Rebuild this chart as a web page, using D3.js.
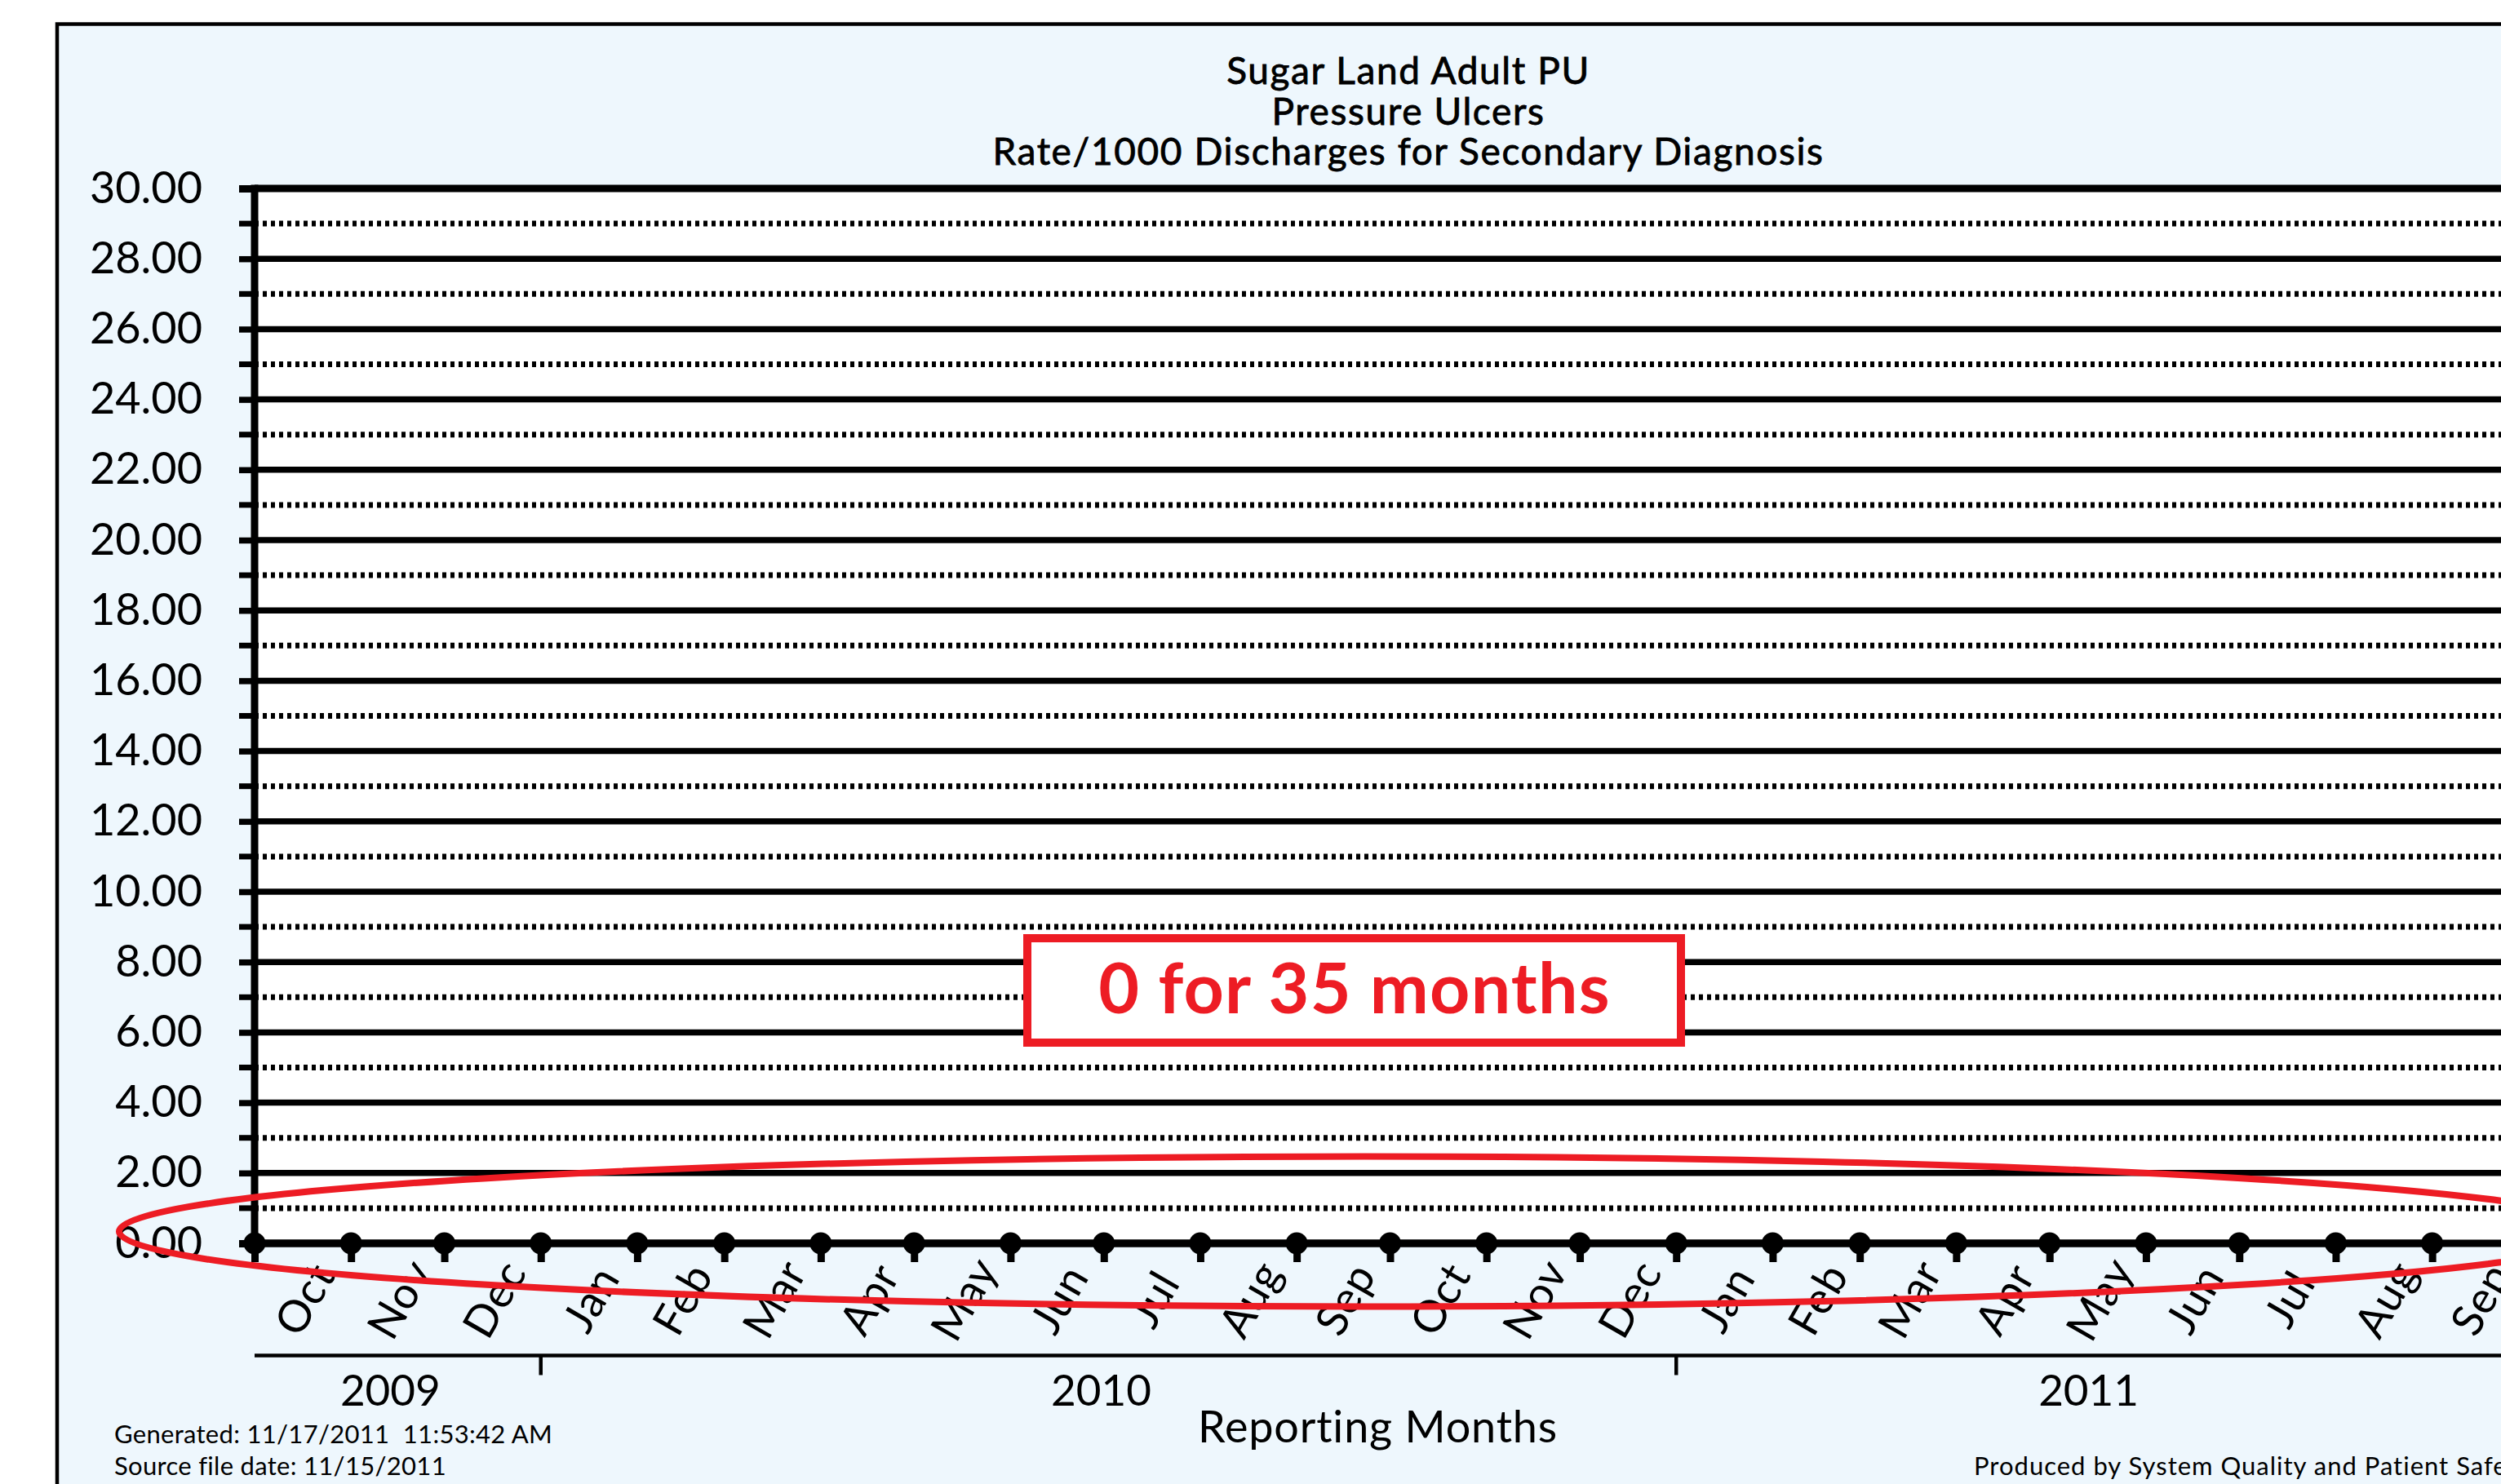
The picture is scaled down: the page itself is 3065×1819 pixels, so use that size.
<!DOCTYPE html>
<html>
<head>
<meta charset="utf-8">
<script src="https://cdn.jsdelivr.net/npm/d3@7"></script>
<style>
  html, body { margin: 0; padding: 0; background: #ffffff; }
  svg { display: block; }
  text { font-family: "Lato", "Noto Sans", sans-serif; fill: #000; }
</style>
</head>
<body>
<svg id="chart" width="3065" height="1819"></svg>
<script>
// ---------------- data ----------------
const titleLines = ["Sugar Land Adult PU", "Pressure Ulcers", "Rate/1000 Discharges for Secondary Diagnosis"];
const monthDates = ["2009-10-01","2009-11-01","2009-12-01","2010-01-01","2010-02-01","2010-03-01",
  "2010-04-01","2010-05-01","2010-06-01","2010-07-01","2010-08-01","2010-09-01",
  "2010-10-01","2010-11-01","2010-12-01","2011-01-01","2011-02-01","2011-03-01",
  "2011-04-01","2011-05-01","2011-06-01","2011-07-01","2011-08-01","2011-09-01"];
const monthLabels = ["Oct","Nov","Dec","Jan","Feb","Mar","Apr","May","Jun","Jul","Aug","Sep",
  "Oct","Nov","Dec","Jan","Feb","Mar","Apr","May","Jun","Jul","Aug","Sep"];
const rateValues = [0,0,0,0,0,0,0,0,0,0,0,0,0,0,0,0,0,0,0,0,0,0,0,0];
const yMajorTicks = [0,2,4,6,8,10,12,14,16,18,20,22,24,26,28,30];
const yMinorTicks = [1,3,5,7,9,11,13,15,17,19,21,23,25,27,29];
const yTickLabels = ["0.00","2.00","4.00","6.00","8.00","10.00","12.00","14.00","16.00","18.00",
  "20.00","22.00","24.00","26.00","28.00","30.00"];
const years = ["2009","2010","2011"];
const yearStarts = ["2009-10-01","2010-01-01","2011-01-01"];
const xDomain = ["2009-10-01","2011-10-01"];
const yDomain = [0, 30];
const xAxisTitle = "Reporting Months";
const annotationText = "0 for 35 months";
const footerLeft = ["Generated: 11/17/2011  11:53:42 AM", "Source file date: 11/15/2011"];
const footerRight = "Produced by System Quality and Patient Safety";

// ---------------- layout ----------------
const W = 3065, H = 1819;
const plotL = 312, plotT = 231, plotB = 1524, plotR = 3095, gridR = 3120;
const RED = "#ED1C24", BG = "#EEF7FD";
const parse = d3.timeParse("%Y-%m-%d");

const svg = d3.select("#chart");
svg.append("rect").attr("x", 0).attr("y", 0).attr("width", W).attr("height", H).attr("fill", "#fff");
// outer frame
svg.append("rect").attr("x", 70).attr("y", 29.5).attr("width", 3400).attr("height", 1900)
  .attr("fill", BG).attr("stroke", "#000").attr("stroke-width", 4.5);
// plot area
svg.append("rect").attr("x", plotL).attr("y", plotT).attr("width", gridR - plotL).attr("height", plotB - plotT)
  .attr("fill", "#fff");

const x = d3.scaleTime().domain(xDomain.map(parse)).range([plotL, plotR]);
const y = d3.scaleLinear().domain(yDomain).range([plotB, plotT]);

// title
svg.append("g").selectAll("text").data(titleLines).join("text")
  .attr("x", 1726).attr("y", (d, i) => 103 + i * 49.5)
  .attr("text-anchor", "middle").attr("font-size", 46).attr("letter-spacing", 1.6)
  .attr("stroke", "#000").attr("stroke-width", 0.8)
  .text(d => d);

// minor dotted gridlines
const gMinor = svg.append("g");
gMinor.selectAll("line.dot").data(yMinorTicks).join("line")
  .attr("x1", plotL).attr("x2", gridR).attr("y1", d => y(d)).attr("y2", d => y(d))
  .attr("stroke", "#000").attr("stroke-width", 7).attr("stroke-dasharray", "5,5");
gMinor.selectAll("line.tk").data(yMinorTicks).join("line")
  .attr("x1", plotL - 19).attr("x2", plotL).attr("y1", d => y(d)).attr("y2", d => y(d))
  .attr("stroke", "#000").attr("stroke-width", 7);

// major gridlines
svg.append("g").selectAll("line").data(yMajorTicks).join("line")
  .attr("x1", plotL).attr("x2", gridR).attr("y1", d => y(d)).attr("y2", d => y(d))
  .attr("stroke", "#000").attr("stroke-width", d => (d === 0 || d === 30) ? 9 : 7.5);

// y axis with labels
const yAxis = d3.axisLeft(y).tickValues(yMajorTicks)
  .tickFormat((d, i) => yTickLabels[i]).tickSize(19).tickPadding(45);
const gy = svg.append("g").attr("transform", `translate(${plotL},0)`).call(yAxis);
gy.select(".domain").remove();
gy.selectAll(".tick line").attr("stroke", "#000").attr("stroke-width", d => (d === 0 || d === 30) ? 9 : 7.5);
gy.selectAll(".tick text").attr("font-size", 54).attr("font-family", "Lato").attr("fill", "#000")
  .attr("dy", 17);
// y axis line
svg.append("line").attr("x1", plotL).attr("x2", plotL).attr("y1", plotT - 4.5).attr("y2", plotB)
  .attr("stroke", "#000").attr("stroke-width", 9);

// x axis ticks (stems below the baseline)
const xAxis = d3.axisBottom(x).tickValues(monthDates.map(parse)).tickSize(23).tickFormat("");
const gx = svg.append("g").attr("transform", `translate(0,${plotB})`).call(xAxis);
gx.select(".domain").remove();
gx.selectAll(".tick line").attr("stroke", "#000").attr("stroke-width", 9);

// data line + markers
const pts = monthDates.map((d, i) => ({ date: parse(d), v: rateValues[i] }));
svg.append("path").datum(pts)
  .attr("d", d3.line().x(d => x(d.date)).y(d => y(d.v)))
  .attr("fill", "none").attr("stroke", "#000").attr("stroke-width", 9);
svg.append("g").selectAll("circle").data(pts).join("circle")
  .attr("cx", d => x(d.date)).attr("cy", d => y(d.v)).attr("r", 13.5).attr("fill", "#000");

// month labels (centered in each month, rotated)
const monthMid = (d) => {
  const s = parse(d), e = d3.timeMonth.offset(s, 1);
  return (x(s) + x(e)) / 2;
};
svg.append("g").selectAll("text").data(monthDates).join("text")
  .attr("transform", d => `translate(${monthMid(d) + 2},1592) rotate(-60)`)
  .attr("text-anchor", "middle").attr("dy", "0.36em").attr("font-size", 54).attr("letter-spacing", 1)
  .text((d, i) => monthLabels[i]);

// year axis
const yearY = 1661.5;
svg.append("line").attr("x1", plotL).attr("x2", gridR).attr("y1", yearY).attr("y2", yearY)
  .attr("stroke", "#000").attr("stroke-width", 4.5);
svg.append("g").selectAll("line").data(yearStarts.slice(1)).join("line")
  .attr("x1", d => x(parse(d))).attr("x2", d => x(parse(d)))
  .attr("y1", yearY).attr("y2", yearY + 24).attr("stroke", "#000").attr("stroke-width", 4.5);
svg.append("g").selectAll("text").data(years).join("text")
  .attr("x", (d, i) => {
    const a = x(parse(yearStarts[i]));
    const b = i + 1 < yearStarts.length ? x(parse(yearStarts[i + 1])) : W;
    return (a + b) / 2 - (i + 1 < yearStarts.length ? 9 : 0);
  })
  .attr("y", 1723).attr("text-anchor", "middle").attr("font-size", 53).text(d => d);

// axis title
svg.append("text").attr("x", (plotL + W) / 2).attr("y", 1768).attr("text-anchor", "middle")
  .attr("font-size", 54).attr("letter-spacing", 0.8).text(xAxisTitle);

// footers
svg.append("g").selectAll("text").data(footerLeft).join("text")
  .attr("x", 140).attr("y", (d, i) => 1769 + i * 39).attr("font-size", 31).attr("letter-spacing", 0.3)
  .style("white-space", "pre").text(d => d);
svg.append("text").attr("x", 2419).attr("y", 1808).attr("font-size", 31).attr("letter-spacing", 1.0)
  .text(footerRight);

// red annotation box
svg.append("rect").attr("x", 1259).attr("y", 1150).attr("width", 801).attr("height", 128)
  .attr("fill", "#fff").attr("stroke", RED).attr("stroke-width", 10);
svg.append("text").attr("x", 1660).attr("y", 1242).attr("text-anchor", "middle")
  .attr("font-size", 86).attr("font-weight", 700).attr("letter-spacing", 1.2)
  .style("fill", RED).text(annotationText);

// red ellipse
svg.append("ellipse").attr("cx", 1672).attr("cy", 1509.5).attr("rx", 1526).attr("ry", 92)
  .attr("fill", "none").attr("stroke", RED).attr("stroke-width", 8);
</script>
</body>
</html>
